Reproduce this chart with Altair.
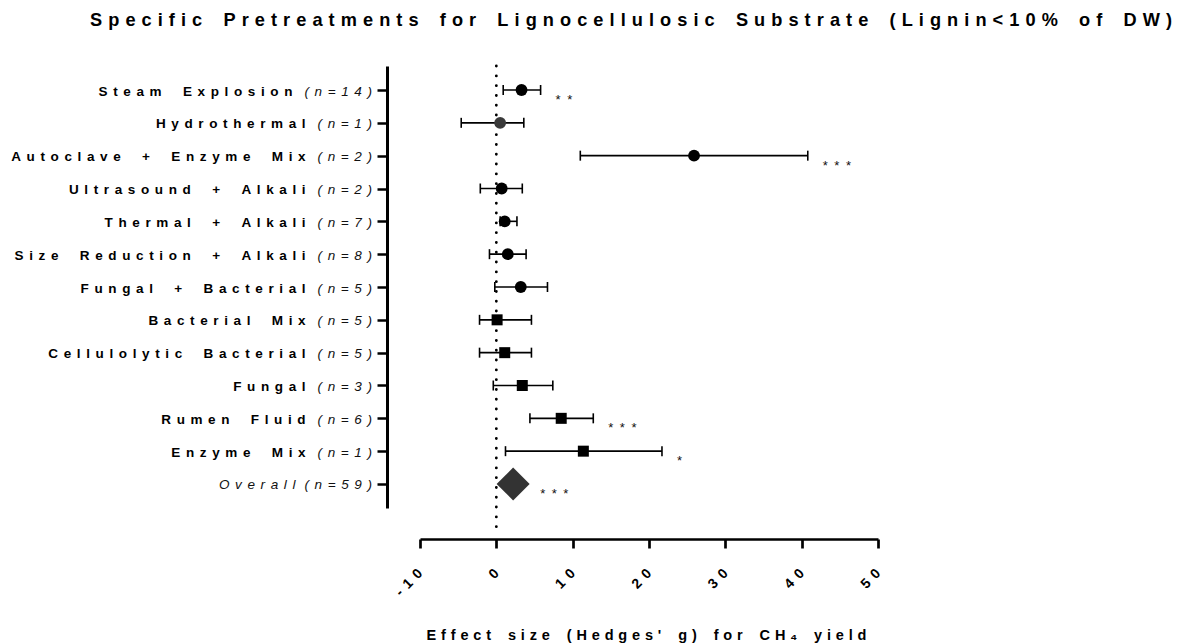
import json

import altair as alt
import pandas as pd

# ---- data -------------------------------------------------------------
treatments = [
    "Steam Explosion", "Hydrothermal", "Autoclave + Enzyme Mix",
    "Ultrasound + Alkali", "Thermal + Alkali", "Size Reduction + Alkali",
    "Fungal + Bacterial", "Bacterial Mix", "Cellulolytic Bacterial",
    "Fungal", "Rumen Fluid", "Enzyme Mix",
]
n_studies = [14, 1, 2, 2, 7, 8, 5, 5, 5, 3, 6, 1]
hedges_g = [3.3, 0.5, 25.9, 0.7, 1.1, 1.5, 3.2, 0.1, 1.1, 3.4, 8.5, 11.4]
ci_low = [0.9, -4.6, 11.0, -2.1, 0.5, -0.9, -0.2, -2.2, -2.2, -0.4, 4.4, 1.2]
ci_high = [5.8, 3.6, 40.8, 3.4, 2.7, 3.9, 6.7, 4.6, 4.6, 7.4, 12.7, 21.7]
significance = ["**", "", "***", "", "", "", "", "", "", "", "***", "*"]
category = ["Physicochemical"] * 7 + ["Biological"] * 5

overall_label = "Overall"
overall_n = 59
overall_g = 2.2
overall_sig = "***"

x_ticks = [-10, 0, 10, 20, 30, 40, 50]

title_text = "Specific Pretreatments for Lignocellulosic Substrate (Lignin<10% of DW)"
x_title_text = "Effect size (Hedges' g) for CH\u2084 yield"

# ---- typography helpers ----------------------------------------------
FONT = "Liberation Sans"
LABEL_SIZE = 13.5
GAP = "\u2005\u2006"          # ~0.42 em tracking between letters
GAP_EM = 0.25 + 1 / 6
WORD = "\u2002\u2005"         # wide word space


def spaced(text, gap=GAP, word=WORD):
    words = text.split(" ")
    return (gap + word + gap).join(gap.join(w) for w in words)


# Arial-metric advance widths (em) for the "(n=..)" strings
_ADV = {"(": 0.333, ")": 0.333, "n": 0.556, "=": 0.584}


def n_width(s, size=LABEL_SIZE):
    em = sum(_ADV.get(c, 0.556) for c in s)
    return size * (em + (len(s) - 1) * GAP_EM)


def n_text(n):
    return f"(n={n})"


# ---- table -------------------------------------------------------------
order = treatments + [overall_label]
df = pd.DataFrame({
    "label": order,
    "n": n_studies + [overall_n],
    "g": hedges_g + [overall_g],
    "lo": ci_low + [None],
    "hi": ci_high + [None],
    "sig": significance + [overall_sig],
    "group": category + ["Overall"],
})
df["sig_text"] = [spaced(s, gap="\u2002") if s else "" for s in df["sig"]]
df["n_text"] = [spaced(n_text(n)) for n in df["n"]]
df["name_text"] = [spaced(s) for s in df["label"]]
df["digits"] = [len(str(n)) for n in df["n"]]

# ---- layout --------------------------------------------------------------
W, H = 458, 442
LABEL_X = -48            # right edge of the row labels (plot coords)
NAME_GAP = 12

y_scale = alt.Scale(type="point", domain=order, padding=0.731)
x_scale = alt.Scale(domain=[-10, 50], nice=False, zero=False)

label_expr = " : ".join(
    f"datum.value == {v} ? {json.dumps(spaced(str(v)), ensure_ascii=False)}" for v in x_ticks
) + " : ''"

x_axis = alt.Axis(
    values=x_ticks, labelExpr=label_expr, labelAngle=-45, labelAlign="right",
    labelBaseline="middle", labelPadding=23, labelFont=FONT, labelFontSize=14,
    labelFontWeight="bold", labelColor="black",
    tickSize=9, tickWidth=2.7, tickColor="black",
    domainWidth=2.7, domainColor="black", grid=False, offset=31,
    title=spaced(x_title_text, gap="\u2004", word="\u2002"), titleFont=FONT, titleFontSize=14.5,
    titleFontWeight="bold", titleColor="black", titleBaseline="alphabetic",
    titleY=100, titleX=W / 2 - 3,
)
y_axis = alt.Axis(
    labels=False, title=None, tickSize=10, tickWidth=2.5, tickColor="black",
    domainWidth=3, domainColor="black", grid=False, offset=33,
)


def X(field):
    return alt.X(field, scale=x_scale, axis=x_axis)


Y = alt.Y("label:N", scale=y_scale, axis=y_axis)

base = alt.Chart(df)

# reference line at zero effect
zero_line = alt.Chart(pd.DataFrame({"x": [0]})).mark_rule(
    strokeDash=[0.1, 9.7], strokeCap="round", strokeWidth=2.8, color="black"
).encode(x=X("x:Q"), y=alt.value(0), y2=alt.value(H + 25))

with_ci = base.transform_filter("isValid(datum.lo)")
ci_rule = with_ci.mark_rule(strokeWidth=1.6, color="black").encode(x=X("lo:Q"), x2="hi:Q", y=Y)
cap_lo = with_ci.mark_tick(size=10, thickness=1.6, color="black", opacity=1).encode(x=X("lo:Q"), y=Y)
cap_hi = with_ci.mark_tick(size=10, thickness=1.6, color="black", opacity=1).encode(x=X("hi:Q"), y=Y)

tone = alt.condition(alt.datum.label == "Hydrothermal", alt.value("#3a3a3a"), alt.value("#000000"))

circles = base.transform_filter("datum.group == 'Physicochemical'").mark_point(
    shape="circle", filled=True, opacity=1, strokeWidth=0, size=140
).encode(x=X("g:Q"), y=Y, color=tone)
squares = base.transform_filter("datum.group == 'Biological'").mark_point(
    shape="square", filled=True, opacity=1, strokeWidth=0, size=121, color="black"
).encode(x=X("g:Q"), y=Y)
diamond = base.transform_filter("datum.group == 'Overall'").mark_point(
    shape="diamond", filled=True, opacity=1, strokeWidth=0, size=1089, color="#333333"
).encode(x=X("g:Q"), y=Y)

stars = base.transform_filter("datum.sig != '' && isValid(datum.hi)").mark_text(
    align="left", baseline="alphabetic", dx=15, dy=14, font=FONT, fontSize=13, color="#111111"
).encode(x=X("hi:Q"), y=Y, text="sig_text:N")
overall_stars = base.transform_filter(f"datum.label == '{overall_label}'").mark_text(
    align="left", baseline="alphabetic", dx=27, dy=14, font=FONT, fontSize=13, color="#111111"
).encode(x=X("g:Q"), y=Y, text="sig_text:N")

n_labels = base.mark_text(
    align="right", baseline="middle", dy=1.5, font=FONT, fontSize=LABEL_SIZE,
    fontStyle="italic", color="#111111"
).encode(x=alt.value(LABEL_X), y=Y, text="n_text:N")


def name_layer(digits):
    return base.transform_filter(
        f"datum.digits == {digits} && datum.label != '{overall_label}'"
    ).mark_text(
        align="right", baseline="middle", dy=1.5, font=FONT, fontSize=LABEL_SIZE,
        fontWeight="bold", color="black",
        dx=-(n_width(n_text(10 ** (digits - 1))) + NAME_GAP),
    ).encode(x=alt.value(LABEL_X), y=Y, text="name_text:N")


overall_name = base.transform_filter(f"datum.label == '{overall_label}'").mark_text(
    align="right", baseline="middle", dy=1.5, font=FONT, fontSize=LABEL_SIZE,
    fontStyle="italic", color="#111111", dx=-(n_width(n_text(overall_n)) + 9),
).encode(x=alt.value(LABEL_X), y=Y, text="name_text:N")

chart = alt.layer(
    zero_line, ci_rule, cap_lo, cap_hi, circles, squares, diamond, stars, overall_stars,
    n_labels, name_layer(1), name_layer(2), overall_name,
).properties(
    width=W, height=H,
    title=alt.TitleParams(
        text=spaced(title_text, gap="\u2005\u200a", word="\u2002"), font=FONT, fontSize=18.2,
        fontWeight="bold", color="black", anchor="middle", frame="group", dx=-18, offset=20,
        baseline="alphabetic",
    ),
    autosize=alt.AutoSizeParams(type="none"),
    padding={"left": 420, "top": 66, "right": 1193 - 420 - W, "bottom": 644 - 66 - H},
).configure_view(stroke="transparent")

chart.save("out.html", embed_options={"renderer": "svg", "actions": False})
